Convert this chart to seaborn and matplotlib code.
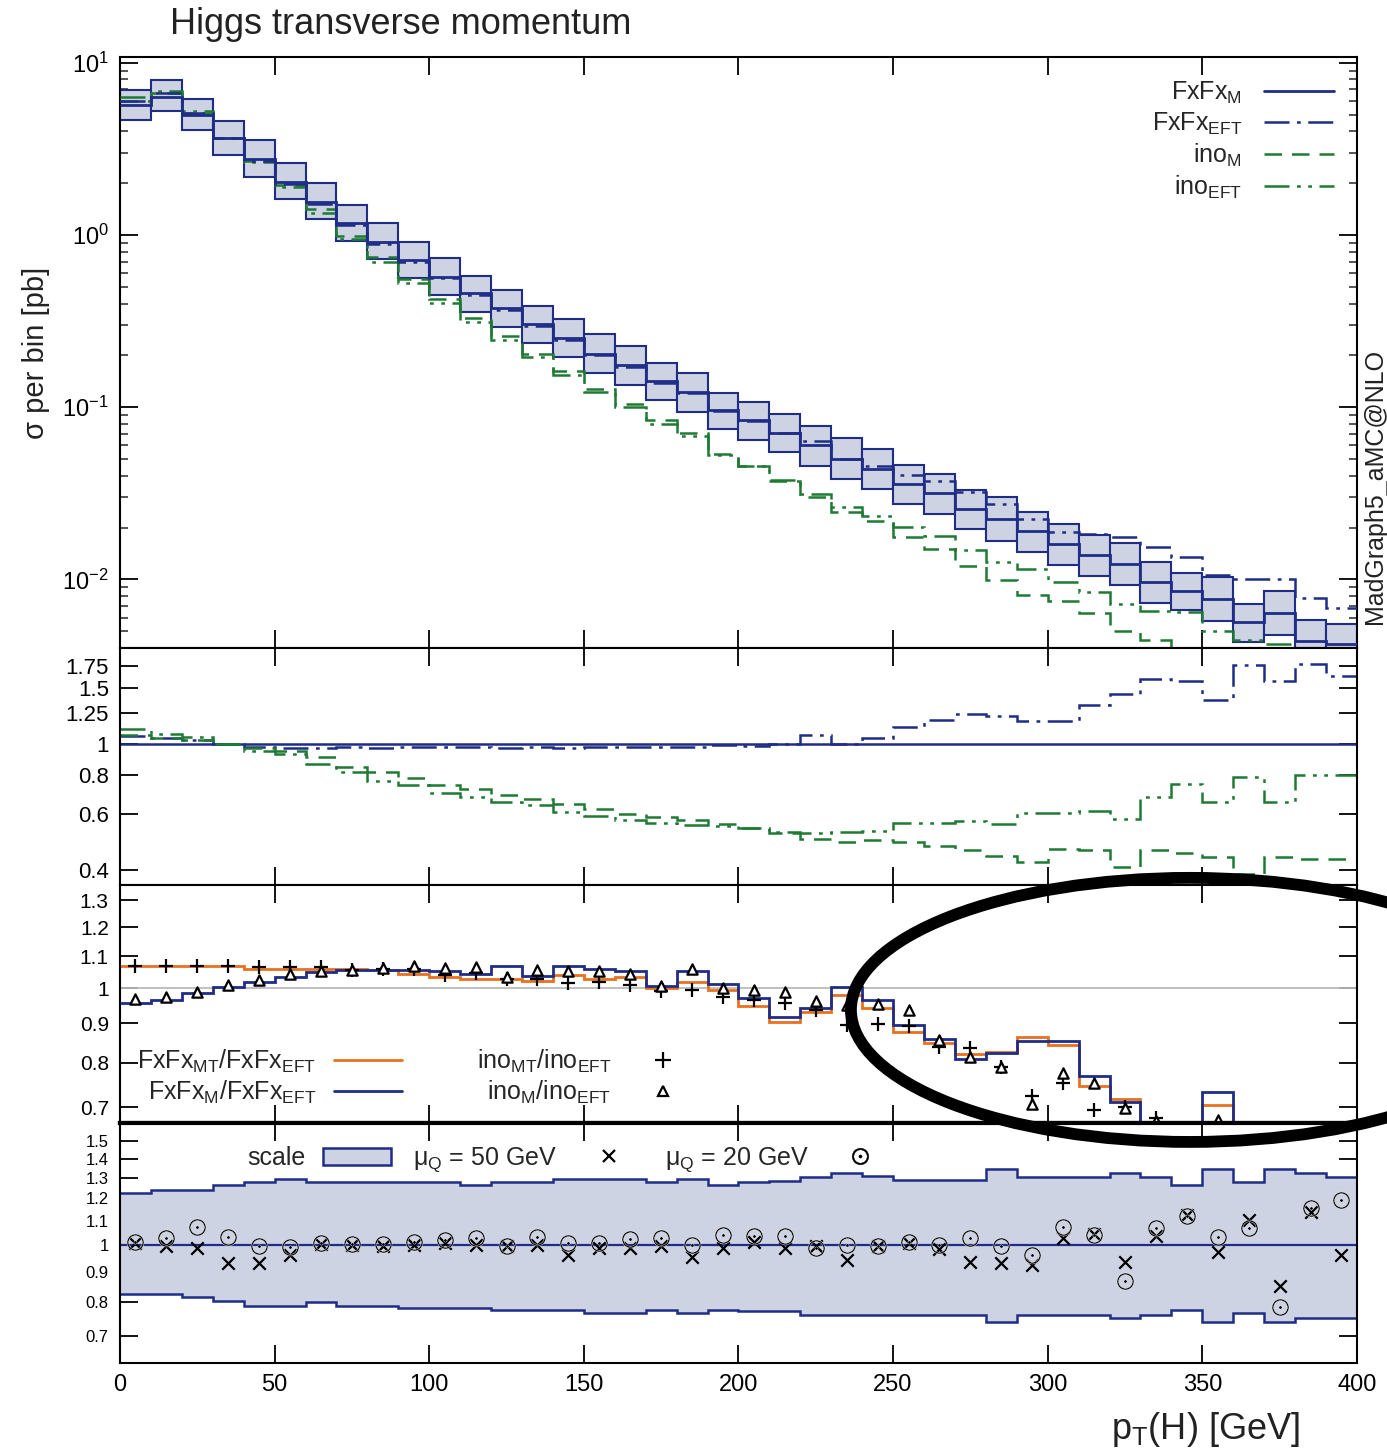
"""
Higgs transverse momentum: FxFx / inclusive comparison with ratio panels
"""
import numpy as np
import matplotlib
matplotlib.use('Agg')
import matplotlib.pyplot as plt
import seaborn as sns
from matplotlib.lines import Line2D
from matplotlib.patches import Patch, Ellipse
from matplotlib.ticker import FixedLocator, FixedFormatter, NullLocator, LogLocator

# ---- data (10 GeV bins, 0-400 GeV) ----
edges = np.arange(0, 410, 10)
centers = edges[:-1] + 5

# FxFx_M central value, sigma per bin [pb]
fxfx_m = [5.65, 6.37, 4.99, 3.65, 2.77, 2.04, 1.56, 1.17, 0.915, 0.716,
          0.573, 0.458, 0.376, 0.304, 0.253, 0.205, 0.175, 0.142, 0.123, 0.096,
          0.084, 0.071, 0.060, 0.0503, 0.044, 0.036, 0.0316, 0.0258, 0.0225, 0.019,
          0.0160, 0.0138, 0.0123, 0.00966, 0.0086, 0.0077, 0.00565, 0.0064, 0.0044, 0.0042]

# relative scale band (also used for the top panel band)
band_up = [1.227, 1.239, 1.239, 1.264, 1.280, 1.292, 1.277, 1.277, 1.277, 1.277,
           1.277, 1.264, 1.277, 1.277, 1.292, 1.292, 1.292, 1.277, 1.292, 1.264,
           1.280, 1.285, 1.305, 1.323, 1.309, 1.289, 1.289, 1.289, 1.344, 1.305,
           1.305, 1.305, 1.323, 1.305, 1.264, 1.344, 1.280, 1.344, 1.326, 1.305]
band_lo = [0.826, 0.826, 0.817, 0.802, 0.789, 0.789, 0.799, 0.789, 0.789, 0.781,
           0.781, 0.781, 0.774, 0.774, 0.774, 0.766, 0.766, 0.774, 0.766, 0.774,
           0.771, 0.771, 0.759, 0.759, 0.759, 0.759, 0.759, 0.759, 0.741, 0.759,
           0.759, 0.759, 0.751, 0.759, 0.774, 0.741, 0.766, 0.741, 0.751, 0.751]

# ratios to FxFx_M (panel 2)
r_fxfx_eft = [1.06, 1.045, 1.025, 1.0, 0.975, 0.97, 0.97, 0.975, 0.97, 0.975,
              0.98, 0.975, 0.97, 0.975, 0.97, 0.975, 0.98, 0.975, 0.98, 0.99,
              0.985, 1.0, 1.063, 1.0, 1.043, 1.13, 1.186, 1.245, 1.224, 1.177,
              1.177, 1.323, 1.43, 1.60, 1.577, 1.373, 1.773, 1.57, 1.78, 1.628]
r_ino_m = [1.063, 1.045, 1.025, 1.0, 0.969, 0.952, 0.907, 0.844, 0.813, 0.78,
           0.74, 0.72, 0.69, 0.67, 0.645, 0.625, 0.60, 0.59, 0.575, 0.56,
           0.545, 0.525, 0.502, 0.493, 0.50, 0.49, 0.478, 0.462, 0.444, 0.426,
           0.466, 0.462, 0.411, 0.462, 0.453, 0.442, 0.39, 0.442, 0.434, 0.434]
r_ino_eft = [1.116, 1.076, 1.05, 1.0, 0.952, 0.93, 0.864, 0.813, 0.765, 0.74,
             0.70, 0.68, 0.655, 0.64, 0.61, 0.595, 0.575, 0.565, 0.555, 0.55,
             0.545, 0.53, 0.524, 0.527, 0.531, 0.564, 0.564, 0.571, 0.56, 0.607,
             0.607, 0.617, 0.582, 0.68, 0.75, 0.656, 0.784, 0.656, 0.797, 0.797]

# panel 3: mass-effect ratios
fxfx_mt_eft = [1.068, 1.068, 1.068, 1.068, 1.06, 1.058, 1.058, 1.058, 1.055, 1.042,
               1.034, 1.026, 1.026, 1.022, 1.04, 1.026, 1.034, 1.0, 1.019, 0.994,
               0.947, 0.904, 0.932, 0.979, 0.941, 0.878, 0.848, 0.821, 0.827, 0.863,
               0.843, 0.746, 0.717, 0.62, 0.63, 0.705, 0.56, 0.63, 0.56, 0.61]
fxfx_m_eft = [0.955, 0.965, 0.984, 1.002, 1.019, 1.034, 1.05, 1.055, 1.055, 1.055,
              1.053, 1.043, 1.068, 1.037, 1.068, 1.057, 1.053, 1.006, 1.053, 1.012,
              0.97, 0.918, 0.941, 1.002, 0.965, 0.895, 0.860, 0.809, 0.823, 0.854,
              0.854, 0.769, 0.712, 0.625, 0.634, 0.733, 0.565, 0.637, 0.562, 0.614]
ino_mt_eft = [1.068, 1.068, 1.068, 1.068, 1.064, 1.064, 1.064, 1.055, 1.057, 1.06,
              1.04, 1.047, 1.026, 1.026, 1.014, 1.019, 1.01, 0.992, 0.994, 0.973,
              0.965, 0.955, 0.936, 0.895, 0.898, 0.893, 0.839, 0.835, 0.79, 0.724,
              0.754, 0.694, 0.70, 0.678, 0.6, 0.6, 0.6, 0.6, 0.6, 0.6]
ino_m_eft = [0.967, 0.974, 0.989, 1.009, 1.024, 1.043, 1.053, 1.055, 1.061, 1.068,
             1.061, 1.066, 1.034, 1.055, 1.053, 1.053, 1.043, 1.006, 1.058, 0.999,
             0.995, 0.989, 0.963, 0.95, 0.953, 0.936, 0.856, 0.814, 0.789, 0.707,
             0.776, 0.752, 0.698, 0.672, 0.6, 0.674, 0.6, 0.6, 0.6, 0.6]

# panel 4: merging scale variations
mu50 = [1.006, 0.996, 0.987, 0.931, 0.93, 0.962, 1.003, 1.0, 0.994, 1.0,
        1.009, 1.0, 0.994, 1.0, 0.962, 0.987, 0.989, 0.996, 0.953, 0.987,
        1.012, 0.987, 0.996, 0.943, 0.996, 1.006, 0.985, 0.937, 0.93, 0.926,
        1.029, 1.045, 0.937, 1.035, 1.124, 0.973, 1.103, 0.850, 1.136, 0.962]
mu20 = [1.012, 1.026, 1.071, 1.031, 0.996, 0.99, 1.006, 1.003, 1.003, 1.012,
        1.018, 1.028, 0.996, 1.031, 1.009, 1.009, 1.022, 1.029, 1.0, 1.04,
        1.035, 1.035, 0.987, 1.0, 0.996, 1.012, 1.0, 1.028, 0.994, 0.962,
        1.071, 1.04, 0.867, 1.067, 1.118, 1.031, 1.067, 0.784, 1.156, 1.192]

fxfx_m = np.array(fxfx_m)
band_up, band_lo = np.array(band_up), np.array(band_lo)

# ---- style ----
sns.set_theme(style='ticks')
plt.rcParams['font.family'] = ['Liberation Sans', 'DejaVu Sans']
plt.rcParams['mathtext.default'] = 'regular'
plt.rcParams['axes.edgecolor'] = 'black'
plt.rcParams['axes.linewidth'] = 1.5

BLUE = '#1f2d87'
GREEN = '#1f7a34'
ORANGE = '#e8701e'
BAND = '#cdd3e3'
TXT = '#222222'
DASHDOT = (0, (10, 3, 1.5, 3))
DASHED = (0, (7, 4))
DASHDOTDOT = (0, (10, 3, 1.5, 3, 1.5, 3))

fig = plt.figure(figsize=(13.87, 14.51), dpi=100)
L, W = 0.0865, 0.8918
ax1 = fig.add_axes([L, 0.5534, W, 0.4073])
ax2 = fig.add_axes([L, 0.3901, W, 0.1633])
ax3 = fig.add_axes([L, 0.2260, W, 0.1640])
ax4 = fig.add_axes([L, 0.0606, W, 0.1654])


def frame(ax, ylim, yticks=None, ylabels=None, ysize=17):
    ax.set_yscale('log')
    ax.set_xlim(0, 400)
    ax.set_ylim(*ylim)
    ax.xaxis.set_major_locator(FixedLocator(np.arange(0, 401, 50)))
    ax.xaxis.set_minor_locator(NullLocator())
    if yticks is not None:
        ax.yaxis.set_major_locator(FixedLocator(yticks))
        ax.yaxis.set_major_formatter(FixedFormatter(ylabels))
        ax.yaxis.set_minor_locator(NullLocator())
    ax.tick_params(which='major', direction='in', length=13, width=1.3,
                   top=True, right=True, labelsize=17, pad=8, colors='black')
    ax.tick_params(which='minor', direction='in', length=6, width=1.1,
                   top=True, right=True)
    ax.tick_params(axis='y', labelsize=ysize)
    ax.grid(False)


# ---- panel 1: distributions ----
ax1.bar(edges[:-1], fxfx_m * (band_up - band_lo), bottom=fxfx_m * band_lo, width=10,
        align='edge', color=BAND, edgecolor=BLUE, linewidth=1.5, zorder=1)
ax1.stairs(fxfx_m, edges, baseline=None, color=BLUE, lw=2, zorder=4)
ax1.stairs(fxfx_m * np.array(r_fxfx_eft), edges, baseline=None, color=BLUE, lw=1.8,
           ls=DASHDOT, zorder=4)
ax1.stairs(fxfx_m * np.array(r_ino_m), edges, baseline=None, color=GREEN, lw=1.8,
           ls=DASHED, zorder=3)
ax1.stairs(fxfx_m * np.array(r_ino_eft), edges, baseline=None, color=GREEN, lw=1.8,
           ls=DASHDOTDOT, zorder=3)
frame(ax1, (0.004, 10.8))
ax1.yaxis.set_major_locator(FixedLocator([1e-2, 1e-1, 1, 10]))
ax1.yaxis.set_minor_locator(LogLocator(base=10, subs=np.arange(2, 10)))
ax1.tick_params(labelbottom=False)
h1 = [Line2D([], [], color=BLUE, lw=2),
      Line2D([], [], color=BLUE, lw=1.8, ls=DASHDOT),
      Line2D([], [], color=GREEN, lw=1.8, ls=DASHED),
      Line2D([], [], color=GREEN, lw=1.8, ls=DASHDOTDOT)]
ax1.legend(h1, ['FxFx$_{M}$', 'FxFx$_{EFT}$', 'ino$_{M}$', 'ino$_{EFT}$'],
           loc='upper right', frameon=False, markerfirst=False, fontsize=18,
           handlelength=2.8, handletextpad=0.9, labelspacing=0.2,
           borderaxespad=0.5)

# ---- panel 2: ratios to FxFx_M ----
ax2.stairs(fxfx_m / fxfx_m, edges, baseline=None, color=BLUE, lw=1.8)
ax2.stairs(r_fxfx_eft, edges, baseline=None, color=BLUE, lw=1.8, ls=DASHDOT)
ax2.stairs(r_ino_m, edges, baseline=None, color=GREEN, lw=1.8, ls=DASHED)
ax2.stairs(r_ino_eft, edges, baseline=None, color=GREEN, lw=1.8, ls=DASHDOTDOT)
frame(ax2, (0.36, 2.0), [0.4, 0.6, 0.8, 1, 1.25, 1.5, 1.75],
      ['0.4', '0.6', '0.8', '1', '1.25', '1.5', '1.75'], ysize=16)
ax2.tick_params(labelbottom=False)

# ---- panel 3: mass effects ----
ax3.axhline(1, color='#bbbbbb', lw=1.3, zorder=1)
ax3.stairs(fxfx_mt_eft, edges, baseline=None, color=ORANGE, lw=2, zorder=2)
ax3.stairs(fxfx_m_eft, edges, baseline=None, color=BLUE, lw=2, zorder=3)
sns.scatterplot(x=centers, y=ino_mt_eft, marker='+', color='black', s=110,
                linewidth=1.6, ax=ax3, zorder=5)
sns.scatterplot(x=centers, y=ino_m_eft, marker='^', facecolor='white',
                edgecolor='black', s=55, linewidth=1.6, ax=ax3, zorder=5)
frame(ax3, (0.668, 1.36), [0.7, 0.8, 0.9, 1, 1.1, 1.2, 1.3],
      ['0.7', '0.8', '0.9', '1', '1.1', '1.2', '1.3'], ysize=15)
ax3.tick_params(labelbottom=False)
ax3.spines['bottom'].set_linewidth(3)
h3 = [Line2D([], [], color=ORANGE, lw=2),
      Line2D([], [], color=BLUE, lw=2),
      Line2D([], [], color='black', marker='+', ls='none', ms=11, mew=1.6),
      Line2D([], [], color='black', marker='^', ls='none', ms=7, mew=1.6,
             mfc='white')]
ax3.legend(h3, ['FxFx$_{MT}$/FxFx$_{EFT}$', 'FxFx$_{M}$/FxFx$_{EFT}$',
                'ino$_{MT}$/ino$_{EFT}$', 'ino$_{M}$/ino$_{EFT}$'],
           ncol=2, loc='lower left', frameon=False, markerfirst=False,
           fontsize=18, handlelength=2.7, handletextpad=0.7,
           columnspacing=3.0, labelspacing=0.15, borderaxespad=0.3)

# ---- panel 4: merging-scale dependence ----
ax4.stairs(band_up, edges, baseline=band_lo, fill=True, color=BAND, zorder=1)
ax4.stairs(band_up, edges, baseline=None, color=BLUE, lw=1.8, zorder=2)
ax4.stairs(band_lo, edges, baseline=None, color=BLUE, lw=1.8, zorder=2)
ax4.axhline(1, color=BLUE, lw=1.6, zorder=2)
sns.scatterplot(x=centers, y=mu50, marker='x', color='black', s=80,
                linewidth=1.6, ax=ax4, zorder=5)
sns.scatterplot(x=centers, y=mu20, marker='$\\odot$', color='black', s=150,
                linewidth=0.3, ax=ax4, zorder=5)
frame(ax4, (0.63, 1.61), [0.7, 0.8, 0.9, 1, 1.1, 1.2, 1.3, 1.4, 1.5],
      ['0.7', '0.8', '0.9', '1', '1.1', '1.2', '1.3', '1.4', '1.5'], ysize=12)
ax4.spines['top'].set_linewidth(3)
h4 = [Patch(facecolor=BAND, edgecolor=BLUE, linewidth=1.8),
      Line2D([], [], color='black', marker='x', ls='none', ms=9, mew=1.6),
      Line2D([], [], color='black', marker='$\\odot$', ls='none', ms=12, mew=0.3)]
ax4.legend(h4, ['scale', 'μ$_{Q}$ = 50 GeV', 'μ$_{Q}$ = 20 GeV'], ncol=3,
           loc='upper left', bbox_to_anchor=(0.085, 1.0), frameon=False,
           markerfirst=False, fontsize=18, handlelength=2.7, handletextpad=0.7,
           columnspacing=0.9, borderaxespad=0.5)

# ---- texts ----
fig.text(0.1226, 0.983, 'Higgs transverse momentum', fontsize=26, ha='left',
         va='center', color=TXT)
fig.text(0.026, 0.757, 'σ per bin [pb]', fontsize=21, rotation=90,
         ha='center', va='center', color=TXT)
fig.text(0.869, 0.015, 'p$_{T}$(H) [GeV]', fontsize=26, ha='center',
         va='center', color=TXT)
fig.text(0.9915, 0.665, 'MadGraph5_aMC@NLO', fontsize=18, rotation=90,
         ha='center', va='center', color=TXT)

# hand-drawn emphasis ellipse over the high-pT region of the mass ratio panel
fig.add_artist(Ellipse((0.858, 0.304), 0.489, 0.182, transform=fig.transFigure,
                       fill=False, edgecolor='black', linewidth=8.5, zorder=20))

plt.savefig('out.png', dpi=100)
print("saved out.png")
